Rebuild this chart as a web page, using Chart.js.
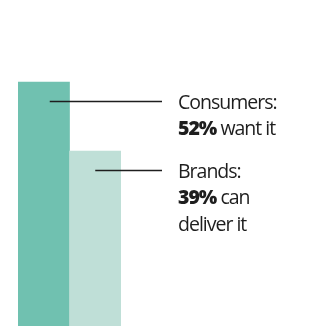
<!DOCTYPE html>
<html>
<head>
<meta charset="utf-8">
<script src="https://cdn.jsdelivr.net/npm/chart.js@4"></script>
<style>
  html, body { margin: 0; padding: 0; background: #fff; }
  #wrap { width: 309px; height: 326px; position: relative; }
</style>
</head>
<body>
<div id="wrap"><canvas id="chart"></canvas></div>
<script>
// chart values
const categories = ['Consumers', 'Brands'];
const values = [52, 39];
const barColors = ['#70c1b0', '#bfdfd7'];
// callout text: [bold part, rest] per line
const calloutLines = [
  [['', 'Consumers:'], ['52%', ' want it']],
  [['', 'Brands:'], ['39%', ' can'], ['', 'deliver it']]
];

const FONT = '"Open Sans", sans-serif';

// draws the leader line and the text next to each bar
const calloutPlugin = {
  id: 'callouts',
  afterDatasetsDraw(chart) {
    const ctx = chart.ctx;
    const bars = chart.getDatasetMeta(0).data;
    const startShift = [6, 0];
    ctx.save();
    bars.forEach((bar, i) => {
      const y = Math.round(bar.y + 19) + 0.5;
      ctx.strokeStyle = '#1e1e1e';
      ctx.lineWidth = 1.3;
      ctx.beginPath();
      ctx.moveTo(bar.x + startShift[i], y);
      ctx.lineTo(162, y);
      ctx.stroke();

      ctx.fillStyle = '#1e1e1e';
      ctx.textBaseline = 'alphabetic';
      ctx.letterSpacing = '-1px';
      let base = y + 7;
      calloutLines[i].forEach(parts => {
        let x = 178;
        if (parts[0]) {
          ctx.font = '800 19.5px ' + FONT;
          ctx.fillText(parts[0], x, base);
          x += ctx.measureText(parts[0]).width;
        }
        ctx.font = '19.5px ' + FONT;
        ctx.fillText(parts[1], x, base);
        base += 26.5;
      });
    });
    ctx.restore();
  }
};

new Chart(document.getElementById('chart'), {
  type: 'bar',
  data: {
    labels: categories,
    datasets: [{
      data: values,
      backgroundColor: barColors,
      borderWidth: 0,
      barPercentage: 1,
      categoryPercentage: 1
    }]
  },
  options: {
    responsive: true,
    maintainAspectRatio: false,
    animation: false,
    layout: { padding: { left: 18, right: 188, top: 0, bottom: 0 } },
    plugins: {
      legend: { display: false },
      tooltip: { enabled: false }
    },
    scales: {
      x: { display: false },
      y: { display: false, min: 6, max: 67.5 }
    }
  },
  plugins: [calloutPlugin]
});
</script>
</body>
</html>
